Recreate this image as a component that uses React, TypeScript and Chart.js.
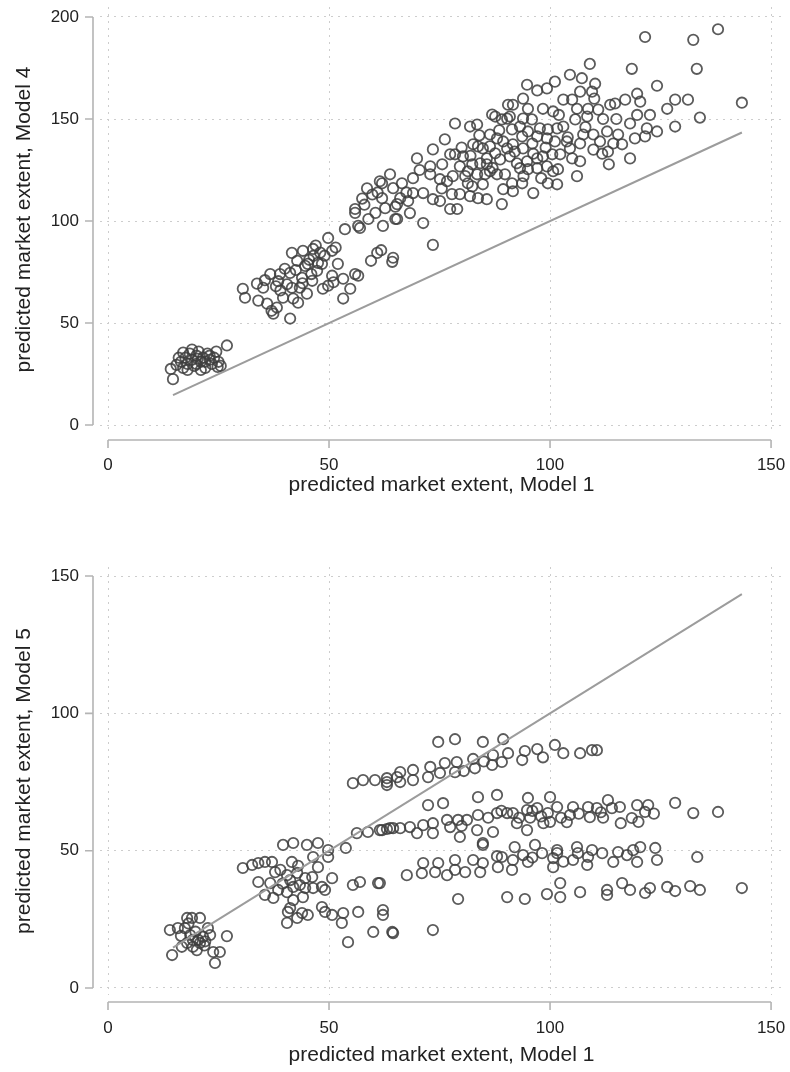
import React, { useEffect, useRef } from "react";
import Chart from "chart.js/auto";

// ---------- DATA ----------
const xTicks = [0, 50, 100, 150];
const yTicksTop = [0, 50, 100, 150, 200];
const yTicksBottom = [0, 50, 100, 150];
const xTitle = "predicted market extent, Model 1";
const yTitleTop = "predicted market extent, Model 4";
const yTitleBottom = "predicted market extent, Model 5";
const diagonal = [14.7, 143.4];

// [Model 1, Model 4]
const model4Points: number[][] = [
  [14.7,22.5],[14.2,27.5],[15.5,29.5],[16.5,31],[17,28],[17.5,33],[18,30],[18.5,35],[19,32],[19.5,29],[20,34],[20.5,36],[21,31],[21.5,33],[22,28],[22.5,35],[23,32],[23.5,30],[24,33],[24.5,36],[25,31],[25.5,29],[16,33],[19,37],[21,27],[26.9,39],[23,34],[18,27],[20,30],[22,31],[24.8,28.5],[17,35.5],[20.3,32.5],
  [30.5,66.8],[31,62.4],[33.7,69.3],[35.1,67.3],[34,61],[36.7,74],[38.9,74],[40,76.6],[41.2,74.6],[36,59.5],[37,56],[37.4,54.6],[38.2,57.6],[39.6,62.4],[41.6,67.3],[41.2,52.2],[41.9,62],[43.4,67.3],[43.9,72.2],[45,64.4],[46.2,70.7],[47.3,75.6],[45.2,79],[48.6,66.8],[49.8,68.3],[50.7,73.2],[48.4,79],[53.2,62],[54.8,66.8],[53.2,71.7],[55.9,74],[56.6,73.2],
  [41.6,84.4],[44.1,85.4],[45.5,81],[46.4,86.3],[48,84.5],[50.7,85.4],[49.8,91.7],[42.8,80.5],[44.6,78],[47.5,79.5],[49,83],[38.5,70.5],[40.5,69],[42.5,76],[39,66],[44,69.5],[46.5,83],[47,88],[51.5,87],[52,79],[35.5,71],
  [59.5,80.5],[60.9,84.4],[61.8,85.7],[64.3,80],[64.5,82],
  [53.6,96],[55.9,104],[55.9,105.9],[57,96.6],[58,108],[58.6,116],[61.5,119.5],[62.2,97.6],[62.7,106.3],[65,101],[65,107],[63.8,122.9],[62,118.5],[62,111.2],[65.4,108.3],[67.9,109.8],[66.1,111.2],[64.5,116.1],[66.5,118.5],[69,121],[68.3,103.9],[65.4,101],[56.6,97.6],[58.9,101],[59.8,113],[60.5,104],
  [69.9,130.7],[72.9,122.9],[72.9,126.8],[75.1,120.5],[76.7,119.5],[75.6,127.8],[77.4,132.7],[78.5,132.7],[80.3,131.7],[79.6,126.8],[81.4,124.4],[80.8,122],[73.5,135.1],[76.2,140],[71.3,113.7],[69,113.7],[73.5,110.7],[75.1,109.8],[77.4,105.9],[79,105.9],[77.8,113.2],[79.6,113.2],[81.9,112.2],[81.4,118.5],[82.4,117],[71.3,99],[73.5,88.3],[78.5,147.8],[81.9,146.3],[83.5,147.3],
  [82.6,137.6],[83.7,136.6],[84.8,135.6],[85.7,130.7],[86.4,142.4],[88,140.5],[89.4,139],[90.3,135.6],[86.4,136.6],[87.6,133.2],[88.7,130.2],[90.9,131.7],[86.9,152.2],[90.9,151.2],[90.5,157],[82.4,127.8],[84.2,128.3],[85.7,127.8],[83.5,122.9],[85.3,122.9],[84.8,118],[85.7,110.7],[83.7,111.2],[86.4,124.4],[88,122.9],[89.8,122.9],[89.4,115.6],[89.1,108.3],[91.4,118.5],[91.6,114.6],[87.6,151.2],[89.1,149.8],[90.3,150.2],[91.6,157],[91.4,144.9],[91.6,137.6],[92.5,128.3],
  [93.9,160],[94.8,166.8],[97.1,164],[99.3,165],[101.1,168.3],[98.4,155],[100.7,153.7],[93.9,150.2],[95.9,149.8],[97.7,145.4],[99.5,144.9],[99.3,140.5],[97.1,141.5],[95,143.9],[93.2,146.3],[93.7,141.5],[93.9,135.6],[96.2,133],[97.1,130.7],[98.4,131.7],[94.8,129.3],[93.2,125.9],[95,125.4],[97.1,125.9],[99.3,126.8],[100.7,124.4],[99.5,118.5],[96.2,113.7],[93.7,118.5],[101.6,118],[101.8,125.4],[102.3,132.7],[100.5,132.7],[101.1,139],[103.8,139],[101.6,145.4],[103,146.3],[103,159.5],
  [104.5,171.7],[107.2,170],[109,177],[110.2,167.3],[109.5,163.4],[106.8,163.4],[105,159.5],[106.1,155],[108.6,155],[110.9,154.6],[108.4,151.2],[105.7,149.8],[107.5,142.4],[109.8,142.4],[112.9,143.9],[111.3,139],[109.8,135],[111.8,133],[113.1,134],[106.8,138],[104.5,135.6],[105,130.7],[106.8,129.3],[106.1,122],[113.3,127.8],[113.6,157],[114.7,157.6],[115.4,142.4],[114.3,138],
  [116.3,137.6],[117,159.5],[118.1,147.8],[118.1,130.7],[119.2,140.5],[119.7,152],[119.7,162.4],[120.4,158.5],[121.5,141.5],[121.9,145.4],[122.6,152],[124.2,143.9],[124.2,166.3],[118.5,174.6],[121.5,190.2],[126.5,155],[128.3,146.3],[128.3,159.5],[131.2,159.5],[133.9,150.7],[132.4,188.8],[133.2,174.6],[138,194],[143.4,158],
  [75.5,116],[78,122],[82,132],[87,126],[92,134],[96,138],[99,136],[104,141],[108,146],[112,150],[88.5,144.5],[95,155],[102,152],[110,160],[115,150],[98,121],[94,122],[80,136],[84,142],[70.5,125],[67.5,114],[61,114],[57.5,111],[38,68],[43,60],[46,74],[51,70],
];

// [Model 1, Model 5]
const model5Points: number[][] = [
  [14.5,12],[14,21.1],[15.8,21.8],[17.9,25.5],[19,25.5],[20.8,25.5],[17.4,21.8],[19.2,17.5],[17.9,16.4],[16.7,15],[19.2,15],[20.4,17.5],[21.5,18.6],[23.1,19.3],[22.6,21.8],[20.1,13.8],[23.8,13.1],[25.3,13.1],[24.2,9.1],[26.9,18.9],[20.8,16.4],[18.6,19.3],[21.8,15.5],[18.2,23.5],[16.5,19],[22,17],[19.8,20.5],
  [30.5,43.7],[32.6,44.8],[34,45.5],[35.5,45.9],[37.1,45.9],[34,38.6],[36.7,38.2],[37.8,42.2],[35.5,33.9],[37.4,32.8],[38.5,35.7],[39.6,52.1],[41.9,52.8],[41.6,45.9],[40.5,41.1],[41.2,39.3],[41.9,36.8],[43.4,37.5],[40.5,34.9],[42.8,41.9],[44.6,40],[46.2,40.4],[44.6,36.4],[46.4,36.4],[48.4,36.8],[49.1,35.7],[50.7,40],[45,52.1],[47.5,52.8],[46.4,47.7],[49.8,50.2],[49.8,47.7],[41.2,29.1],[40.7,27.7],[40.5,23.7],[42.8,25.5],[43.9,27.3],[45.2,26.6],[41.9,32],[44.1,33.1],[48.4,29.5],[49.1,27.7],[50.7,26.6],[53.2,27.3],[56.6,27.7],[52.9,23.7],[54.3,16.7],[55.4,37.5],[57,38.6],[61.1,38.2],[60,20.4],[62.2,28.4],[62.2,26.6],[64.3,20.4],[53.8,51],[39,43],[43,44.5],[47.5,44],[39.5,38],
  [55.4,74.6],[57.7,75.7],[60.4,75.7],[63.1,75],[65.4,76.8],[63.1,76.4],[63.1,73.9],[66.1,78.6],[66.1,75],[69,79.4],[69,75.7],[72.4,76.8],[72.9,80.5],[75.1,78.3],[76.2,81.9],[78.5,78.6],[78.9,82.3],[83,80],[82.6,83.4],[86.9,81.2],[89.1,82.3],[87.1,84.8],[90.5,85.5],[93.7,83],[94.3,86.3],[97.1,87],[98.4,84],[101.1,88.5],[103,85.5],[106.8,85.5],[109.5,86.6],[110.6,86.6],[74.7,89.6],[78.5,90.6],[84.8,89.6],[89.4,90.6],[80.5,79],[85,82.5],
  [56.3,56.4],[58.8,56.8],[62,57.5],[63.8,58.2],[61.5,57.5],[63.1,57.9],[64.5,58.2],[66.1,58.2],[68.3,58.6],[69.9,56.4],[71.3,59.3],[73.5,60],[73.5,56.4],[76.7,61.2],[77.4,58.6],[79.2,61.2],[79.6,55],[81.2,61.2],[83.5,57.5],[83.7,63],[84.8,52.8],[87.1,56.8],[88,63.7],[90.3,63.7],[91.6,63.7],[92.5,60],[94.8,64.8],[94.8,57.5],[97.1,65.5],[99.5,63.7],[101.6,65.9],[103.8,60.4],[104.5,63],[105.2,65.9],[108.6,65.9],[109,62.2],[110.6,65.5],[114,65.5],[115.8,65.9],[118.5,61.9],[119.7,66.6],[121.5,64.1],[122.2,66.6],[128.3,67.4],[132.4,63.7],[138,64.1],[72.4,66.6],[75.8,67.3],[83.7,69.5],[88,70.3],[95,69.2],[100,69.5],[113.1,68.4],[89,64.5],[93,62],[95.5,62],[96,64.5],[98,62.5],[98.5,60],[100,60.5],[102.5,62],[112,62],[116,60],[120,60.5],[123.5,63.5],[86,62],[80,59],[106.5,63.5],[111.5,64],
  [67.6,41.1],[71,41.8],[71.3,45.5],[74,42.2],[74.7,45.5],[76.7,41.1],[78.5,43],[78.5,46.6],[80.8,42.2],[82.6,46.6],[84.2,42.2],[84.8,45.5],[84.8,52.1],[88.2,44],[89.1,47.7],[91.4,43],[91.6,46.6],[92,51.3],[93.9,48.4],[95,45.9],[96.6,52.1],[98.2,49.1],[100.7,47.3],[100.7,44],[101.6,49.1],[101.6,50.2],[105.2,46.6],[106.3,49.1],[106.1,51.3],[108.4,44.8],[108.6,47.7],[109.5,50.2],[111.8,49.1],[114.3,45.9],[115.4,49.5],[117.4,48.4],[118.8,50.2],[119.7,45.9],[120.4,51.3],[123.8,51],[124.2,46.6],[133.3,47.7],[88,48],[96,47.5],[103,46],
  [79.2,32.4],[90.3,33.1],[94.3,32.4],[99.3,34.2],[102.3,33.1],[102.3,38.2],[106.8,34.9],[112.9,35.7],[112.9,33.9],[116.3,38.2],[118.1,35.7],[121.5,34.6],[122.6,36.4],[126.5,36.8],[128.3,35.3],[131.7,37.1],[133.9,35.7],[143.4,36.4],[64.5,20],[73.5,21.1],[61.5,38.2],
];

// ---------- STYLE ----------
const FONT = "'Liberation Sans', Arial, Helvetica, sans-serif";
const POINT_COLOR = "rgba(62,62,62,0.85)";
const LINE_COLOR = "#9c9c9c";
const GRID_COLOR = "#cdcdcd";
const AXIS_COLOR = "#b4b4b4";
const TEXT_COLOR = "#222";

const stataAxes = {
  id: "stataAxes",
  afterDraw(chart: any, _args: any, opts: any) {
    const { ctx, chartArea, scales } = chart;
    const xs = scales.x;
    const ys = scales.y;
    const xv = xs.ticks.map((t: any) => t.value);
    const yv = ys.ticks.map((t: any) => t.value);
    ctx.save();
    ctx.strokeStyle = AXIS_COLOR;
    ctx.lineWidth = 1.6;
    ctx.beginPath();
    const ax = chartArea.left - opts.yGap;
    ctx.moveTo(ax, ys.getPixelForValue(Math.min(...yv)));
    ctx.lineTo(ax, ys.getPixelForValue(Math.max(...yv)));
    yv.forEach((v: number) => {
      const p = ys.getPixelForValue(v);
      ctx.moveTo(ax, p);
      ctx.lineTo(ax - 8, p);
    });
    const ay = chartArea.bottom + opts.xGap;
    ctx.moveTo(xs.getPixelForValue(Math.min(...xv)), ay);
    ctx.lineTo(xs.getPixelForValue(Math.max(...xv)), ay);
    xv.forEach((v: number) => {
      const p = xs.getPixelForValue(v);
      ctx.moveTo(p, ay);
      ctx.lineTo(p, ay + 8);
    });
    ctx.stroke();
    ctx.restore();
  },
};

type PanelProps = {
  points: number[][];
  yTicks: number[];
  yTitle: string;
  xMin: number;
  xMax: number;
  yMin: number;
  yMax: number;
  top: number;
  height: number;
  padTop: number;
  xScaleHeight: number;
  xTitlePad: number;
  xGap: number;
};

function Panel(p: PanelProps) {
  const ref = useRef<HTMLCanvasElement | null>(null);
  useEffect(() => {
    if (!ref.current) return;
    const chart = new Chart(ref.current, {
      type: "scatter",
      data: {
        datasets: [
          {
            type: "line",
            data: diagonal.map((v) => ({ x: v, y: v })),
            borderColor: LINE_COLOR,
            borderWidth: 2,
            pointRadius: 0,
            fill: false,
          } as any,
          {
            data: p.points.map(([x, y]) => ({ x, y })),
            pointStyle: "circle",
            pointRadius: 5.2,
            pointBorderWidth: 1.8,
            borderColor: POINT_COLOR,
            backgroundColor: "rgba(0,0,0,0)",
            pointBackgroundColor: "rgba(0,0,0,0)",
          } as any,
        ],
      },
      options: {
        animation: false,
        responsive: false,
        devicePixelRatio: 1,
        layout: { padding: { top: p.padTop, right: 0, left: 0, bottom: 0 } },
        plugins: {
          legend: { display: false },
          tooltip: { enabled: false },
          stataAxes: { xGap: p.xGap, yGap: 7 },
        } as any,
        scales: {
          x: {
            type: "linear",
            min: p.xMin,
            max: p.xMax,
            afterBuildTicks: (s: any) => {
              s.ticks = xTicks.map((v) => ({ value: v }));
            },
            afterFit: (s: any) => {
              s.height = p.xScaleHeight;
              s.paddingLeft = 0;
              s.paddingRight = 0;
              s.paddingTop = 0;
              s.paddingBottom = 0;
            },
            grid: { color: GRID_COLOR, lineWidth: 1, drawTicks: false },
            border: { display: false, dash: [2, 5] },
            ticks: {
              padding: 23,
              color: TEXT_COLOR,
              font: { family: FONT, size: 17 },
              maxRotation: 0,
              callback: (v: any) => String(v),
            },
            title: {
              display: true,
              text: xTitle,
              color: TEXT_COLOR,
              font: { family: FONT, size: 21 },
              padding: { top: 0, bottom: p.xTitlePad },
            },
          },
          y: {
            type: "linear",
            min: p.yMin,
            max: p.yMax,
            afterBuildTicks: (s: any) => {
              s.ticks = p.yTicks.map((v) => ({ value: v }));
            },
            afterFit: (s: any) => {
              s.width = 100;
              s.paddingLeft = 0;
              s.paddingRight = 0;
              s.paddingTop = 0;
              s.paddingBottom = 0;
            },
            grid: { color: GRID_COLOR, lineWidth: 1, drawTicks: false },
            border: { display: false, dash: [2, 5] },
            ticks: {
              padding: 21,
              color: TEXT_COLOR,
              font: { family: FONT, size: 17 },
              callback: (v: any) => String(v),
            },
            title: {
              display: true,
              text: p.yTitle,
              color: TEXT_COLOR,
              font: { family: FONT, size: 21 },
              padding: { top: 11.4, bottom: 0 },
            },
          },
        },
      },
      plugins: [stataAxes as any],
    });
    return () => chart.destroy();
  }, []);
  return (
    <canvas
      ref={ref}
      width={790}
      height={p.height}
      style={{ position: "absolute", left: 0, top: p.top, width: 790, height: p.height, display: "block" }}
    />
  );
}

export default function App() {
  return (
    <div style={{ position: "absolute", left: 0, top: 0, width: 790, height: 1072, background: "#fff" }}>
      <Panel
        points={model4Points}
        yTicks={yTicksTop}
        yTitle={yTitleTop}
        xMin={-1.81}
        xMax={152.7}
        yMin={-3.41}
        yMax={204.9}
        top={0}
        height={510}
        padTop={5}
        xScaleHeight={78}
        xTitlePad={12.4}
        xGap={8}
      />
      <Panel
        points={model5Points}
        yTicks={yTicksBottom}
        yTitle={yTitleBottom}
        xMin={-1.81}
        xMax={152.7}
        yMin={-2.55}
        yMax={153.3}
        top={540}
        height={532}
        padTop={27}
        xScaleHeight={77}
        xTitlePad={4.4}
        xGap={7}
      />
    </div>
  );
}
